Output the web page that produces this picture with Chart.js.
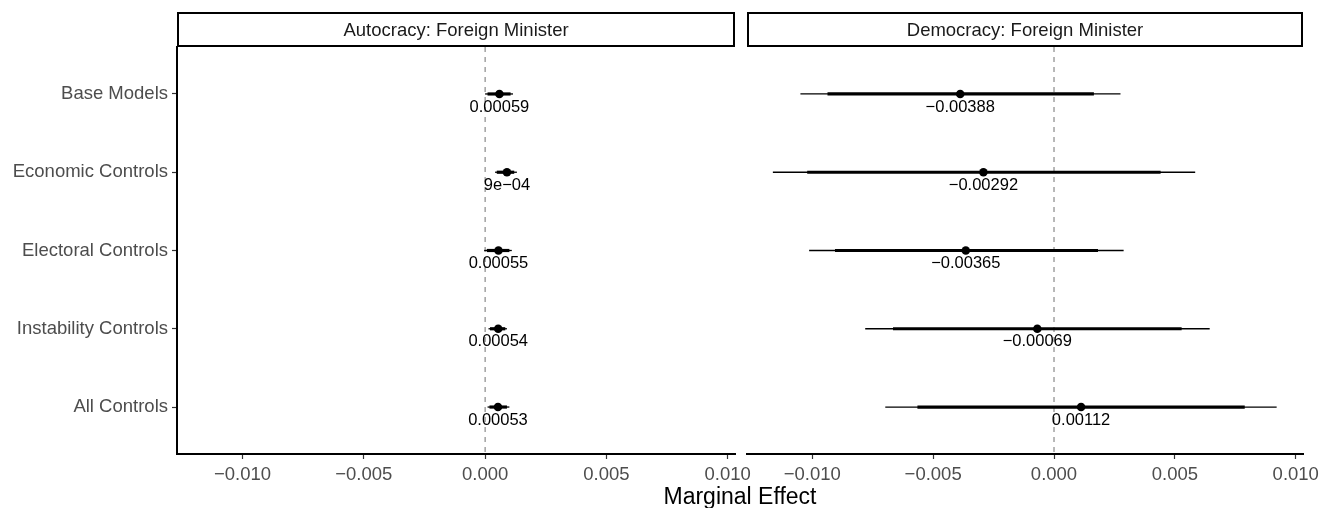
<!DOCTYPE html>
<html>
<head>
<meta charset="utf-8">
<script src="https://cdn.jsdelivr.net/npm/chart.js@4.4.1/dist/chart.umd.min.js"></script>
<style>
  html, body { margin: 0; padding: 0; background: #ffffff; }
  #wrap { position: relative; width: 1330px; height: 508px; overflow: hidden; background: #ffffff; }
  canvas { position: absolute; top: 0; }
  #xtitle { position: absolute; left: 0; width: 1480px; top: 485px; text-align: center;
            font-family: "Liberation Sans", Arial, sans-serif; font-size: 23px; line-height: 23px; color: #000; }
</style>
</head>
<body>
<div id="wrap">
  <canvas id="left" width="760" height="508" style="left:0px;width:760px;height:508px"></canvas>
  <canvas id="right" width="589" height="508" style="left:741px;width:589px;height:508px"></canvas>
  <div id="xtitle">Marginal Effect</div>
</div>
<script>
// ---------------- data ----------------
const categories = ['Base Models', 'Economic Controls', 'Electoral Controls', 'Instability Controls', 'All Controls'];
const panelTitles = ['Autocracy: Foreign Minister', 'Democracy: Foreign Minister'];
const xTicks = [-0.010, -0.005, 0.000, 0.005, 0.010];
const xAxisTitle = 'Marginal Effect';

// Autocracy panel
const autEst      = [0.00059, 0.00090, 0.00055, 0.00054, 0.00053];
const autLabels   = ['0.00059', '9e\u221204', '0.00055', '0.00054', '0.00053'];
const autOuterLo  = [0.00000, 0.00041, -0.00004, 0.00014, 0.00010];
const autOuterHi  = [0.00115, 0.00131, 0.00110, 0.00090, 0.00100];
const autInnerLo  = [0.00010, 0.00048, 0.00007, 0.00020, 0.00018];
const autInnerHi  = [0.00105, 0.00120, 0.00100, 0.00083, 0.00090];

// Democracy panel
const demEst      = [-0.00388, -0.00292, -0.00365, -0.00069, 0.00112];
const demLabels   = ['\u22120.00388', '\u22120.00292', '\u22120.00365', '\u22120.00069', '0.00112'];
const demOuterLo  = [-0.01049, -0.01163, -0.01013, -0.00781, -0.00698];
const demOuterHi  = [0.00275, 0.00584, 0.00288, 0.00644, 0.00921];
const demInnerLo  = [-0.00937, -0.01021, -0.00906, -0.00666, -0.00565];
const demInnerHi  = [0.00165, 0.00441, 0.00182, 0.00528, 0.00789];

// ---------------- style ----------------
const FONT = '"Liberation Sans", Arial, Helvetica, sans-serif';
const X_MIN = -0.0127, X_MAX = 0.0103;
const Y_MIN = 0.4, Y_MAX = 5.6;

function fmtTick(v) {
  const s = Math.abs(v).toFixed(3);
  return (v < -1e-12 ? '\u2212' : '') + s;
}

function buildDatasets(est, oLo, oHi, iLo, iHi) {
  const ds = [];
  categories.forEach((c, i) => {
    ds.push({ data: [{ x: oLo[i], y: i + 1 }, { x: oHi[i], y: i + 1 }],
      borderColor: '#000', borderWidth: 1.3, pointRadius: 0, borderCapStyle: 'butt', fill: false, showLine: true });
    ds.push({ data: [{ x: iLo[i], y: i + 1 }, { x: iHi[i], y: i + 1 }],
      borderColor: '#000', borderWidth: 3.2, pointRadius: 0, borderCapStyle: 'butt', fill: false, showLine: true });
  });
  ds.push({ data: est.map((v, i) => ({ x: v, y: i + 1 })), showLine: false,
    pointRadius: 4.3, pointBackgroundColor: '#000', pointBorderWidth: 0, borderColor: '#000' });
  return ds;
}

function makePlugins(title, est, labels) {
  return [{
    id: 'stripAndZero',
    beforeDatasetsDraw(chart) {
      const ctx = chart.ctx, a = chart.chartArea;
      const xs = chart.scales.x;
      const x0 = xs.getPixelForValue(0);
      ctx.save();
      ctx.strokeStyle = '#7f7f7f';
      ctx.lineWidth = 1.1;
      ctx.setLineDash([5, 5]);
      ctx.beginPath();
      ctx.moveTo(x0, a.top);
      ctx.lineTo(x0, a.bottom);
      ctx.stroke();
      ctx.restore();
    },
    afterDraw(chart) {
      const ctx = chart.ctx, a = chart.chartArea;
      ctx.save();
      ctx.fillStyle = '#ffffff';
      ctx.strokeStyle = '#000';
      ctx.lineWidth = 2;
      const top = 12, bot = a.top;
      ctx.fillRect(a.left, top, a.right - a.left, bot - top);
      ctx.strokeRect(a.left + 1, top + 1, a.right - a.left - 2, bot - top - 2);
      ctx.fillStyle = '#1a1a1a';
      ctx.font = '18.5px ' + FONT;
      ctx.textAlign = 'center';
      ctx.textBaseline = 'middle';
      ctx.fillText(title, (a.left + a.right) / 2, (top + bot) / 2 + 1);
      ctx.restore();
    },
    afterDatasetsDraw(chart) {
      const ctx = chart.ctx;
      const xs = chart.scales.x, ys = chart.scales.y;
      ctx.save();
      ctx.fillStyle = '#000';
      ctx.font = '16.5px ' + FONT;
      ctx.textAlign = 'center';
      ctx.textBaseline = 'middle';
      est.forEach((v, i) => {
        ctx.fillText(labels[i], xs.getPixelForValue(v), ys.getPixelForValue(i + 1) + 13);
      });
      ctx.restore();
    }
  }];
}

function makeChart(id, opts) {
  const tickFont = { family: FONT, size: 18.5 };
  return new Chart(document.getElementById(id), {
    type: 'line',
    data: { datasets: buildDatasets(opts.est, opts.oLo, opts.oHi, opts.iLo, opts.iHi) },
    options: {
      responsive: false,
      animation: false,
      devicePixelRatio: 1,
      layout: { padding: { left: opts.padLeft, right: opts.padRight, top: 47, bottom: 0 } },
      plugins: { legend: { display: false }, tooltip: { enabled: false } },
      scales: {
        x: {
          type: 'linear', min: X_MIN, max: X_MAX,
          afterBuildTicks: s => { s.ticks = xTicks.map(v => ({ value: v })); },
          afterFit: s => { s.height = 54; s.paddingLeft = 0; s.paddingRight = 0; },
          ticks: { callback: v => fmtTick(v), color: '#4d4d4d', font: tickFont, padding: 5,
                   maxRotation: 0, autoSkip: false },
          grid: { display: true, drawOnChartArea: false, drawTicks: true, tickLength: 5,
                  color: '#333333', tickWidth: 1.2 },
          border: { display: true, color: '#000', width: 2 }
        },
        y: {
          type: 'linear', min: Y_MIN, max: Y_MAX, reverse: true, display: opts.showY,
          afterBuildTicks: s => { s.ticks = categories.map((c, i) => ({ value: i + 1 })); },
          afterFit: s => { s.width = opts.showY ? 177 : 0; s.paddingTop = 0; s.paddingBottom = 0; },
          ticks: { callback: v => categories[Math.round(v) - 1], color: '#4d4d4d', font: tickFont,
                   padding: 4, autoSkip: false },
          grid: { display: true, drawOnChartArea: false, drawTicks: true, tickLength: 5,
                  color: '#333333', tickWidth: 1.2 },
          border: { display: true, color: '#000', width: 2 }
        }
      }
    },
    plugins: makePlugins(opts.title, opts.est, opts.labels)
  });
}

makeChart('left', { est: autEst, labels: autLabels, oLo: autOuterLo, oHi: autOuterHi, iLo: autInnerLo, iHi: autInnerHi,
  title: panelTitles[0], showY: true, padLeft: 0, padRight: 25 });
makeChart('right', { est: demEst, labels: demLabels, oLo: demOuterLo, oHi: demOuterHi, iLo: demInnerLo, iHi: demInnerHi,
  title: panelTitles[1], showY: false, padLeft: 6, padRight: 27 });
document.getElementById('xtitle').textContent = xAxisTitle;
</script>
</body>
</html>
